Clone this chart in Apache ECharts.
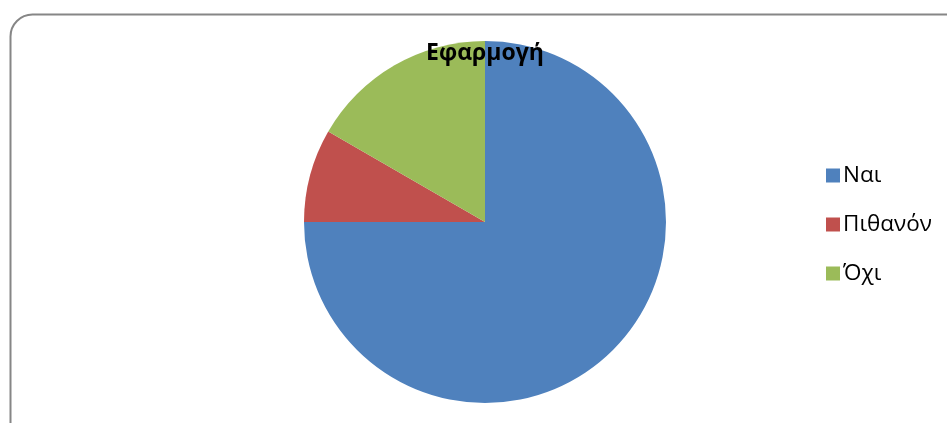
<!DOCTYPE html>
<html><head><meta charset="utf-8">
<script src="https://cdn.jsdelivr.net/npm/echarts@6/dist/echarts.min.js"></script>
<style>html,body{margin:0;padding:0;background:#fff;}#c{width:947px;height:423px;}</style>
</head><body><div id="c"></div>
<script>
const title = 'Εφαρμογή';
const categories = ['Ναι', 'Πιθανόν', 'Όχι'];
const values = [9, 1, 2];
const colors = ['#4F81BD', '#C0504D', '#9BBB59'];

const chart = echarts.init(document.getElementById('c'));
chart.setOption({
  animation: false,
  graphic: [{
    type: 'rect', left: 8, top: 12,
    shape: { width: 980, height: 460, r: 22 },
    style: { fill: 'none', stroke: '#868686', lineWidth: 2 },
    z: -1
  }],
  title: {
    text: title, left: 480, top: 37, textAlign: 'center',
    textStyle: { fontFamily: '"Open Sans", sans-serif', fontWeight: 'bold', fontSize: 23, color: '#000' }
  },
  legend: {
    orient: 'vertical', left: 821, top: 159,
    itemWidth: 14, itemHeight: 14, itemGap: 26, icon: 'rect',
    textStyle: { fontFamily: '"Open Sans", sans-serif', fontSize: 22.5, color: '#000', padding: [0,0,0,-2] },
    data: categories
  },
  series: [{
    type: 'pie', center: [485, 222], radius: 181,
    startAngle: 90, clockwise: true,
    label: { show: false }, labelLine: { show: false },
    emphasis: { disabled: true },
    itemStyle: { borderWidth: 0 },
    data: categories.map((n, i) => ({ name: n, value: values[i], itemStyle: { color: colors[i] } }))
  }]
});
</script></body></html>
